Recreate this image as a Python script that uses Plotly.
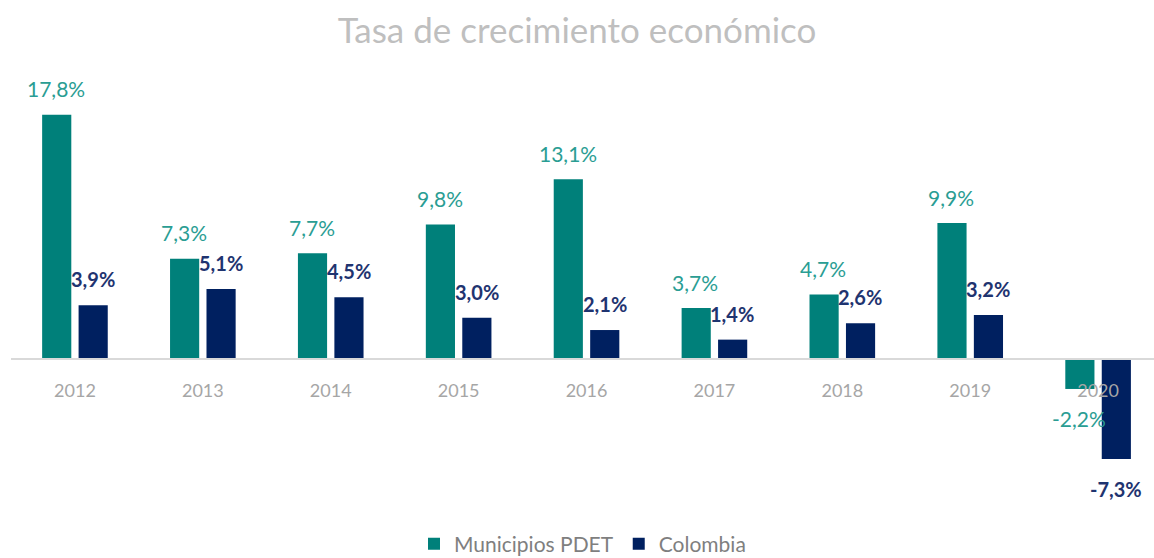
import plotly.graph_objects as go

years = ["2012", "2013", "2014", "2015", "2016", "2017", "2018", "2019", "2020"]
pdet = [17.8, 7.3, 7.7, 9.8, 13.1, 3.7, 4.7, 9.9, -2.2]
colombia = [3.9, 5.1, 4.5, 3.0, 2.1, 1.4, 2.6, 3.2, -7.3]

TEAL = "#00807A"
TEAL_TXT = "#2A9D93"
NAVY = "#002060"
NAVY_TXT = "#1F3470"
FONT = "Lato, sans-serif"


def fmt(v):
    return f"{v:.1f}".replace(".", ",") + "%"


fig = go.Figure()
fig.add_trace(go.Bar(x=years, y=pdet, name="Municipios PDET", marker_color=TEAL,
                     marker_line_width=0))
fig.add_trace(go.Bar(x=years, y=colombia, name="Colombia", marker_color=NAVY,
                     marker_line_width=0))

# value labels sit a little clear of each bar end; category axes take the
# category's serial number as annotation position
for series, dx, col, bold, size in ((pdet, -19, TEAL_TXT, False, 21),
                                    (colombia, 18, NAVY_TXT, True, 20)):
    for i, v in enumerate(series):
        fig.add_annotation(
            x=i, y=v, xref="x", yref="y", xshift=dx, yshift=26 if v >= 0 else -30,
            text=f"<b>{fmt(v)}</b>" if bold else fmt(v),
            showarrow=False, font=dict(family=FONT, size=size, color=col),
        )

y_lo, y_hi = -10.3, 21.8
zero_pos = (0 - y_lo) / (y_hi - y_lo)

fig.update_layout(
    width=1154, height=558,
    margin=dict(l=11, r=0, t=60, b=58, autoexpand=False),
    paper_bgcolor="white", plot_bgcolor="white",
    barmode="group", bargap=0.43, bargroupgap=0.2,
    title=dict(text="Tasa de crecimiento económico", x=0.5, xanchor="center",
               y=1 - 31 / 558, yanchor="middle",
               font=dict(family=FONT, size=35, color="#BFBFBF")),
    showlegend=True,
    legend=dict(orientation="h", x=0.5, xanchor="center", y=-0.1, yanchor="middle",
                font=dict(family=FONT, size=21, color="#7F7F7F"),
                itemsizing="constant", traceorder="normal"),
    xaxis=dict(type="category", range=[-0.5, 8.437], anchor="free", position=zero_pos,
               showline=True, linecolor="#D9D9D9", linewidth=1.5, showgrid=False,
               ticks="", ticklabelstandoff=16,
               tickfont=dict(family=FONT, size=18, color="#A6A6A6")),
    yaxis=dict(range=[y_lo, y_hi], showticklabels=False, ticks="", showline=False,
               showgrid=False, zeroline=False),
)

fig.write_html("out.html")
